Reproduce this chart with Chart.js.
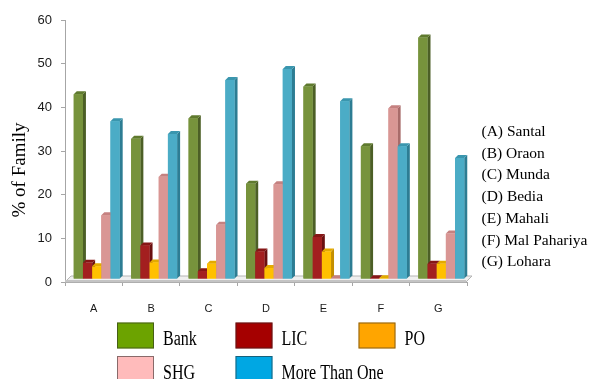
<!DOCTYPE html>
<html>
<head>
<meta charset="utf-8">
<script src="https://cdn.jsdelivr.net/npm/chart.js@4.4.1/dist/chart.umd.min.js"></script>
<style>
  html, body { margin: 0; padding: 0; background: #ffffff; }
  canvas { display: block; }
</style>
</head>
<body>
<canvas id="c" width="589" height="379"></canvas>
<script>
// Categories and the tribes they stand for
const categories = ['A', 'B', 'C', 'D', 'E', 'F', 'G'];
const tribes = ['(A) Santal', '(B) Oraon', '(C) Munda', '(D) Bedia', '(E) Mahali', '(F) Mal Pahariya', '(G) Lohara'];
const seriesNames = ['Bank', 'LIC', 'PO', 'SHG', 'More Than One'];

// % of families per saving channel
const bank        = [42.3, 32.1, 36.8, 21.8, 44.1, 30.4, 55.3];
const lic         = [3.7, 7.7, 1.8, 6.3, 9.6, 0.2, 3.5];
const po          = [2.9, 3.8, 3.5, 2.5, 6.3, 0.2, 3.5];
const shg         = [14.6, 23.4, 12.4, 21.7, 0.2, 39.1, 10.4];
const moreThanOne = [36.1, 33.2, 45.6, 48.1, 40.7, 30.4, 27.7];

const yTicks = [0, 10, 20, 30, 40, 50, 60];

// Colours: bar front, bar side, bar top, legend swatch
const frontColors  = ['#77933C', '#A31F1F', '#FFC000', '#D99694', '#4BACC6'];
const sideColors   = ['#4C5F26', '#6A1010', '#C48F00', '#A86B6A', '#2D7D93'];
const topColors    = ['#5F7A2E', '#861616', '#E3AA00', '#C58180', '#3A96AE'];
const legendColors = ['#6CA300', '#A50000', '#FFA500', '#FFBBBB', '#00A7E3'];

const seriesValues = [bank, lic, po, shg, moreThanOne];

// Depth of the pseudo-3D columns (pixels)
const DX = 3, DY = 3;

const depthPlugin = {
  id: 'depth',
  beforeDatasetsDraw(chart) {
    const { ctx, chartArea: a } = chart;
    // floor slab under the columns
    ctx.save();
    ctx.beginPath();
    ctx.moveTo(a.left, a.bottom);
    ctx.lineTo(a.left + 6, a.bottom - 6);
    ctx.lineTo(a.right + 5, a.bottom - 6);
    ctx.lineTo(a.right - 1, a.bottom);
    ctx.closePath();
    ctx.fillStyle = '#efefef';
    ctx.fill();
    ctx.strokeStyle = '#b5b5b5';
    ctx.lineWidth = 1;
    ctx.stroke();
    ctx.beginPath();
    ctx.moveTo(a.left, a.bottom - 1);
    ctx.lineTo(a.right - 1, a.bottom - 1);
    ctx.strokeStyle = '#c4c4c4';
    ctx.lineWidth = 2;
    ctx.stroke();
    ctx.restore();
    // columns stand a little back on the floor
    ctx.save();
    ctx.translate(DX, -DY);
  },
  afterDatasetsDraw(chart) {
    const ctx = chart.ctx;
    const metas = chart.data.datasets.map((d, i) => chart.getDatasetMeta(i));
    // side and top faces, left to right
    metas.forEach((meta, i) => {
      meta.data.forEach(bar => {
        const { x, y, base, width } = bar.getProps(['x', 'y', 'base', 'width'], true);
        const l = x - width / 2, r = x + width / 2;
        ctx.beginPath();
        ctx.moveTo(r, y);
        ctx.lineTo(r + DX, y - DY);
        ctx.lineTo(r + DX, base - DY);
        ctx.lineTo(r, base);
        ctx.closePath();
        ctx.fillStyle = sideColors[i];
        ctx.fill();
        ctx.beginPath();
        ctx.moveTo(l, y);
        ctx.lineTo(l + DX, y - DY);
        ctx.lineTo(r + DX, y - DY);
        ctx.lineTo(r, y);
        ctx.closePath();
        ctx.fillStyle = topColors[i];
        ctx.fill();
      });
    });
    // front faces on top so neighbours hide the sides behind them
    metas.forEach(meta => meta.data.forEach(bar => bar.draw(ctx)));
    ctx.restore();
  },
  afterDraw(chart) {
    const ctx = chart.ctx;
    ctx.save();
    // value axis title
    ctx.translate(24.5, 170);
    ctx.rotate(-Math.PI / 2);
    ctx.font = '19px "Liberation Serif"';
    ctx.fillStyle = '#000';
    ctx.textAlign = 'center';
    ctx.textBaseline = 'alphabetic';
    ctx.fillText('% of Family', 0, 0);
    ctx.restore();

    // key of the category letters
    ctx.save();
    ctx.font = '15.5px "Liberation Serif"';
    ctx.fillStyle = '#000';
    ctx.textAlign = 'left';
    ctx.textBaseline = 'middle';
    tribes.forEach((t, i) => ctx.fillText(t, 481.5, 132 + i * 21.7));
    ctx.restore();

    // series legend, three columns by two rows
    const colX = [117, 235.5, 358.5];
    const rowY = [322.5, 356];
    ctx.save();
    seriesNames.forEach((name, i) => {
      const bx = colX[i % 3], by = rowY[Math.floor(i / 3)];
      ctx.fillStyle = legendColors[i];
      ctx.fillRect(bx, by, 37, 26);
      ctx.strokeStyle = 'rgba(40,40,40,0.55)';
      ctx.lineWidth = 1;
      ctx.strokeRect(bx + 0.5, by + 0.5, 36, 25);
      ctx.save();
      ctx.translate(bx + 46, by + 22.5);
      ctx.scale(1, 1.3);
      ctx.font = '16px "Liberation Serif"';
      ctx.fillStyle = '#000';
      ctx.textAlign = 'left';
      ctx.textBaseline = 'alphabetic';
      ctx.fillText(name, 0, 0);
      ctx.restore();
    });
    ctx.restore();
  }
};

new Chart(document.getElementById('c'), {
  type: 'bar',
  data: {
    labels: categories,
    datasets: seriesNames.map((name, i) => ({
      label: name,
      data: seriesValues[i],
      backgroundColor: frontColors[i],
      borderWidth: 0,
      categoryPercentage: 0.8,
      barPercentage: 1.0
    }))
  },
  options: {
    responsive: false,
    devicePixelRatio: 1,
    animation: false,
    layout: { padding: { left: 0, right: 122, top: 20, bottom: 57 } },
    plugins: {
      legend: { display: false },
      tooltip: { enabled: false }
    },
    scales: {
      x: {
        afterFit(scale) { scale.height = 40; },
        grid: { display: true, drawOnChartArea: false, drawTicks: true, tickLength: 4, color: '#a6a6a6', offset: true },
        border: { display: true, color: '#a6a6a6' },
        ticks: { color: '#1a1a1a', padding: 16, font: { family: 'Liberation Sans', size: 11 } }
      },
      y: {
        min: 0,
        max: 60,
        afterFit(scale) { scale.width = 65; },
        afterBuildTicks(scale) { scale.ticks = yTicks.map(v => ({ value: v })); },
        grid: { display: true, drawOnChartArea: false, drawTicks: true, tickLength: 4, color: '#a6a6a6' },
        border: { display: true, color: '#a6a6a6' },
        ticks: { color: '#1a1a1a', padding: 9, font: { family: 'Liberation Sans', size: 13 } }
      }
    }
  },
  plugins: [depthPlugin]
});
</script>
</body>
</html>
